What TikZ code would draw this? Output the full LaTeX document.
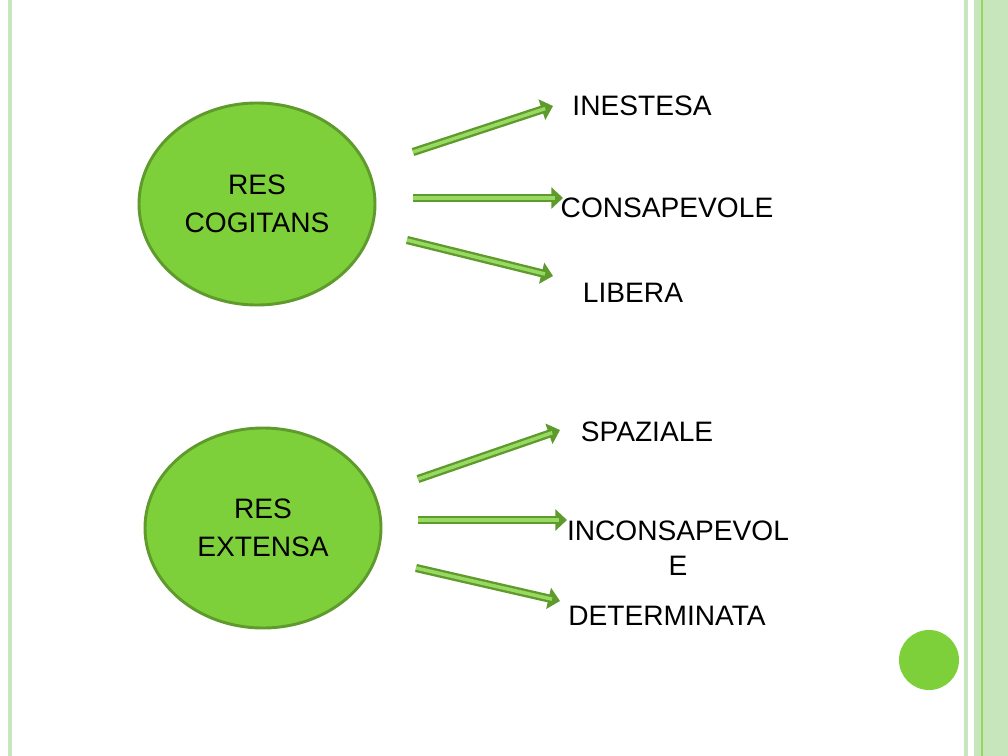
\documentclass[tikz,border=0pt]{standalone}
\usepackage{fontspec}
\setmainfont{Liberation Sans}
\usetikzlibrary{positioning,arrows.meta}
\definecolor{leaf}{HTML}{7ED03A}
\definecolor{leafdark}{HTML}{5E9A2C}
\definecolor{pale}{HTML}{C8E6BC}
\tikzset{
  blob/.style={ellipse, fill=leaf, draw=leafdark, line width=2.5pt, inner sep=0pt, align=center, font=\fontsize{24}{32}\selectfont},
  word/.style={align=center, font=\fontsize{24}{30}\selectfont},
  outer/.style={draw=leafdark, line width=7pt, -{Triangle[length=10pt,width=18pt]}},
  inner/.style={draw=leaf!80!white, line width=3pt, shorten >=7pt}
}
\usetikzlibrary{shapes.geometric}
\begin{document}
\begin{tikzpicture}[x=0.03cm,y=-0.03cm]
\useasboundingbox (0,0) rectangle (1008,756);
		% borders
		\fill[pale] (8,0) rectangle (12,756);
		\fill[pale] (964,0) rectangle (968,756);
		\fill[pale] (974,0) rectangle (1008,756);
		\draw[leaf!70!pale, line width=1pt] (982,0) -- (982,756);
		\fill[leaf] (929,660) ellipse (30 and 30);

		\node[blob, minimum width=236*0.03cm, minimum height=202*0.03cm] (cog) at (257,204) {RES\\COGITANS};
		\node[blob, minimum width=236*0.03cm, minimum height=200*0.03cm] (ext) at (263,528) {RES\\EXTENSA};

		\node[word] (ine) at (642,106) {INESTESA};
		\node[word] (con) at (667,208) {CONSAPEVOLE};
		\node[word] (lib) at (633,293) {LIBERA};
		\node[word] (spa) at (647,432) {SPAZIALE};
		\node[word] (inc) at (678,548) {INCONSAPEVOL\\E};
		\node[word] (det) at (667,616) {DETERMINATA};

		\coordinate (a1) at (413,152); \coordinate (b1) at (553,106);
		\coordinate (a2) at (413,198); \coordinate (b2) at (563,198);
		\coordinate (a3) at (407,240); \coordinate (b3) at (553,276);
		\coordinate (a4) at (418,479); \coordinate (b4) at (560,430);
		\coordinate (a5) at (418,520); \coordinate (b5) at (567,520);
		\coordinate (a6) at (416,568); \coordinate (b6) at (560,601);

		\foreach \i in {1,...,6} {
			\draw[outer] (a\i) -- (b\i);
			\draw[inner] (a\i) -- (b\i);
		}
	\end{tikzpicture}
\end{document}
